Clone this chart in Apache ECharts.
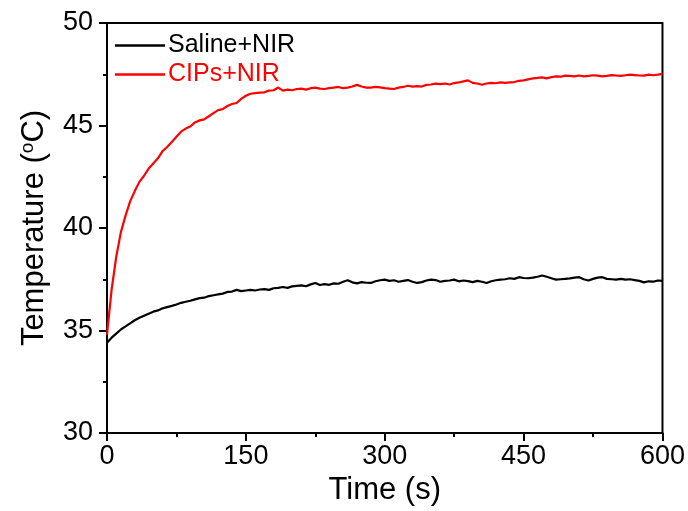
<!DOCTYPE html>
<html><head><meta charset="utf-8">
<script src="https://cdn.jsdelivr.net/npm/echarts@6/dist/echarts.min.js"></script>
<style>html,body{margin:0;padding:0;background:#fff}#c{width:688px;height:511px}</style>
</head><body><div id="c"></div>
<script>
const seriesNames = ['Saline+NIR', 'CIPs+NIR'];
const xTicks = [0, 150, 300, 450, 600];
const yTicks = [30, 35, 40, 45, 50];
const times = [0,5,10,15,20,25,30,35,40,45,50,55,60,65,70,75,80,85,90,95,
100,105,110,115,120,125,130,135,140,145,150,155,160,165,170,175,180,185,190,195,
200,205,210,215,220,225,230,235,240,245,250,255,260,265,270,275,280,285,290,295,
300,305,310,315,320,325,330,335,340,345,350,355,360,365,370,375,380,385,390,395,
400,405,410,415,420,425,430,435,440,445,450,455,460,465,470,475,480,485,490,495,
500,505,510,515,520,525,530,535,540,545,550,555,560,565,570,575,580,585,590,595,600];
const saline = [34.4,34.65,34.85,35.05,35.2,35.35,35.5,35.62,35.72,35.82,35.92,35.98,36.08,36.14,36.2,36.27,36.35,36.4,36.45,36.52,
36.58,36.6,36.68,36.72,36.76,36.8,36.88,36.9,36.98,36.92,36.95,36.98,36.95,37.0,37.02,36.98,37.06,37.08,37.12,37.08,
37.15,37.18,37.2,37.16,37.25,37.32,37.22,37.26,37.23,37.3,37.28,37.38,37.45,37.35,37.3,37.36,37.33,37.32,37.4,37.45,
37.48,37.42,37.45,37.38,37.42,37.46,37.38,37.32,37.36,37.44,37.48,37.46,37.38,37.42,37.44,37.48,37.4,37.44,37.41,37.36,
37.42,37.38,37.32,37.4,37.45,37.48,37.5,37.55,37.52,37.6,37.56,37.55,37.58,37.62,37.68,37.62,37.55,37.48,37.5,37.52,
37.54,37.58,37.6,37.5,37.44,37.52,37.58,37.6,37.52,37.5,37.48,37.52,37.48,37.5,37.46,37.42,37.35,37.4,37.38,37.44,37.42];
const cips = [34.8,37.0,38.6,39.8,40.6,41.3,41.8,42.25,42.55,42.9,43.15,43.4,43.75,43.95,44.2,44.45,44.7,44.85,44.95,45.15,
45.25,45.3,45.45,45.6,45.75,45.8,45.95,46.05,46.1,46.3,46.45,46.55,46.58,46.6,46.62,46.7,46.72,46.85,46.7,46.75,
46.72,46.78,46.8,46.75,46.82,46.85,46.8,46.78,46.82,46.85,46.88,46.82,46.85,46.9,46.98,46.9,46.85,46.85,46.88,46.86,
46.82,46.8,46.78,46.85,46.88,46.94,46.9,46.92,46.9,46.98,47.0,47.04,47.02,47.05,47.0,47.07,47.1,47.15,47.2,47.08,
47.05,46.99,47.05,47.08,47.06,47.1,47.08,47.1,47.12,47.18,47.2,47.25,47.3,47.32,47.35,47.3,47.36,47.4,47.38,47.43,
47.42,47.4,47.44,47.4,47.42,47.45,47.43,47.4,47.42,47.46,47.44,47.42,47.45,47.48,47.46,47.44,47.43,47.48,47.45,47.48,47.52];

const FONT = '"Liberation Sans", Arial, sans-serif';
const chart = echarts.init(document.getElementById('c'), null, {renderer: 'canvas'});
const pair = (ys) => times.map((t, i) => [t, ys[i]]);
chart.setOption({
  animation: false,
  backgroundColor: '#fff',
  grid: {left: 107, right: 25, top: 23, bottom: 78, show: true, borderColor: '#000', borderWidth: 2, backgroundColor: 'transparent'},
  legend: {
    orient: 'vertical', left: 110, top: 28, itemGap: 4,
    icon: 'rect', itemWidth: 50, itemHeight: 2.5,
    textStyle: {fontFamily: FONT, fontSize: 25, color: '#000', padding: [0, 0, 0, -2]},
    data: [
      {name: seriesNames[0], textStyle: {color: '#000'}},
      {name: seriesNames[1], textStyle: {color: '#f00'}}
    ]
  },
  xAxis: {
    type: 'value', min: xTicks[0], max: xTicks[xTicks.length - 1], interval: 150,
    name: 'Time (s)', nameLocation: 'middle', nameGap: 42,
    nameTextStyle: {fontFamily: FONT, fontSize: 31, color: '#000'},
    axisLine: {show: true, lineStyle: {color: '#000', width: 2}},
    axisTick: {show: true, inside: false, length: 8, lineStyle: {color: '#000', width: 2}},
    minorTick: {show: true, splitNumber: 2, length: 4, lineStyle: {color: '#000', width: 2}},
    axisLabel: {fontFamily: FONT, fontSize: 27, color: '#000', margin: 10,
      formatter: (v) => xTicks.includes(v) ? String(v) : ''},
    splitLine: {show: false}
  },
  yAxis: {
    type: 'value', min: yTicks[0], max: yTicks[yTicks.length - 1], interval: 5,
    name: '{a|Temperature (}{s|o}{a|C)}', nameLocation: 'middle', nameGap: 56,
    nameTextStyle: {fontFamily: FONT, fontSize: 31, color: '#000',
      rich: {a: {fontFamily: FONT, fontSize: 31, color: '#000'},
             s: {fontFamily: FONT, fontSize: 19, color: '#000', verticalAlign: 'top', padding: [0, 0, 14, 0]}}},
    axisLine: {show: true, lineStyle: {color: '#000', width: 2}},
    axisTick: {show: true, inside: false, length: 8, lineStyle: {color: '#000', width: 2}},
    minorTick: {show: true, splitNumber: 2, length: 4, lineStyle: {color: '#000', width: 2}},
    axisLabel: {fontFamily: FONT, fontSize: 27, color: '#000', margin: 14,
      formatter: (v) => yTicks.includes(v) ? String(v) : ''},
    splitLine: {show: false}
  },
  series: [
    {name: seriesNames[0], type: 'line', data: pair(saline), symbol: 'none', color: '#000',
     lineStyle: {color: '#000', width: 2.2}},
    {name: seriesNames[1], type: 'line', data: pair(cips), symbol: 'none', color: '#f00',
     lineStyle: {color: '#f00', width: 2.2}}
  ]
});
</script></body></html>
